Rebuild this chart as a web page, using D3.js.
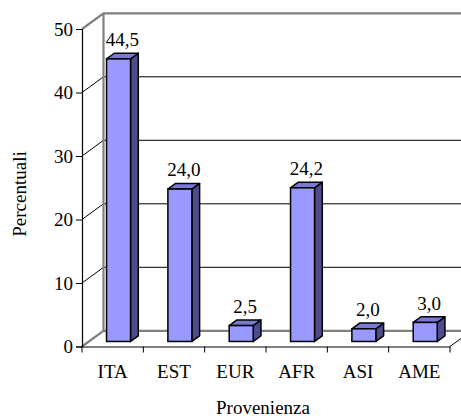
<!DOCTYPE html>
<html>
<head>
<meta charset="utf-8">
<script src="https://cdn.jsdelivr.net/npm/d3@7"></script>
<style>
  html, body { margin: 0; padding: 0; background: #fff; }
  svg { display: block; font-family: "Liberation Serif", "Times New Roman", serif; }
</style>
</head>
<body>
<svg id="chart" width="461" height="419"></svg>
<script>
// Provenienza degli utenti (percentuali)
const categories = ["ITA", "EST", "EUR", "AFR", "ASI", "AME"];
const values = [44.5, 24.0, 2.5, 24.2, 2.0, 3.0];
const yTicks = [0, 10, 20, 30, 40, 50];

const svg = d3.select("#chart");
const W = 461, H = 419;
const FS = 19;

// front plane of the plot
const x = d3.scaleBand().domain(categories).range([82, 450]);
const y = d3.scaleLinear().domain([0, 50]).range([346.5, 29]);

// depth of the 3D box
const DX = 21.5, DY = -15.7;
// bars sit between these depth fractions
const d1 = 0.32, d2 = 0.68;
const barW = 24;

const fmt = v => d3.format(".1f")(v).replace(".", ",");

const gray = "#808080";
svg.append("clipPath").attr("id", "c").append("rect")
  .attr("x", 0).attr("y", 0).attr("width", W).attr("height", H);

const g = svg.append("g").attr("clip-path", "url(#c)");

const xL = x.range()[0], xR = x.range()[1];

// back wall gridlines
g.selectAll(".grid").data(yTicks.filter(t => t > 0 && t < 50)).join("line")
  .attr("x1", xL + DX).attr("x2", xR + DX)
  .attr("y1", d => y(d) + DY).attr("y2", d => y(d) + DY)
  .attr("stroke", "#000").attr("stroke-width", 1);

// side-wall connectors from front ticks to the back wall
g.selectAll(".conn").data(yTicks.filter(t => t > 0 && t < 50)).join("line")
  .attr("x1", xL).attr("x2", xL + DX)
  .attr("y1", d => y(d)).attr("y2", d => y(d) + DY)
  .attr("stroke", "#000").attr("stroke-width", 1);

// back wall outline (gray)
g.append("path")
  .attr("d", `M${xL},${y(50)} L${xL + DX},${y(50) + DY} L${xR + DX},${y(50) + DY}`)
  .attr("fill", "none").attr("stroke", gray).attr("stroke-width", 2.2);
g.append("line")
  .attr("x1", xL + DX).attr("x2", xL + DX)
  .attr("y1", y(50) + DY).attr("y2", y(0) + DY)
  .attr("stroke", gray).attr("stroke-width", 2.2);
// floor
g.append("path")
  .attr("d", `M${xL},${y(0)} L${xL + DX},${y(0) + DY} L${xR + DX},${y(0) + DY}`)
  .attr("fill", "none").attr("stroke", gray).attr("stroke-width", 2.2);
g.append("line")
  .attr("x1", xR).attr("x2", xR + DX)
  .attr("y1", y(0)).attr("y2", y(0) + DY)
  .attr("stroke", "#000").attr("stroke-width", 1);

// bars
const ox1 = d1 * DX, oy1 = d1 * DY, ox2 = d2 * DX, oy2 = d2 * DY;
const bars = g.selectAll(".bar").data(categories.map((c, i) => ({ c, v: values[i] }))).join("g");

bars.each(function (d) {
  const b = d3.select(this);
  const x0 = x(d.c) + x.bandwidth() / 2 - barW / 2 + ox1 - 1;
  const x1 = x0 + barW;
  const yt = y(d.v) + oy1, yb = y(0) + oy1;
  const ddx = ox2 - ox1, ddy = oy2 - oy1;
  // side face
  b.append("path")
    .attr("d", `M${x1},${yt} L${x1 + ddx},${yt + ddy} L${x1 + ddx},${yb + ddy} L${x1},${yb} Z`)
    .attr("fill", "#4D4D8C").attr("stroke", "#000").attr("stroke-width", 1.5).attr("stroke-linejoin", "round");
  // top face
  b.append("path")
    .attr("d", `M${x0},${yt} L${x0 + ddx},${yt + ddy} L${x1 + ddx},${yt + ddy} L${x1},${yt} Z`)
    .attr("fill", "#7A7AD6").attr("stroke", "#000").attr("stroke-width", 1.5).attr("stroke-linejoin", "round");
  // front face
  b.append("rect")
    .attr("x", x0).attr("y", yt).attr("width", barW).attr("height", yb - yt)
    .attr("fill", "#9999FF").attr("stroke", "#000").attr("stroke-width", 1.5);
  // value label
  b.append("text")
    .attr("x", x0 + barW / 2 + ddx / 2).attr("y", yt + ddy - 7)
    .attr("text-anchor", "middle").attr("font-size", FS).attr("fill", "#000")
    .text(fmt(d.v));
});

// y axis (front)
const yAxis = d3.axisLeft(y).tickValues(yTicks).tickSize(6).tickPadding(3).tickFormat(d3.format("d"));
const ya = svg.append("g").attr("transform", `translate(${xL},0)`).call(yAxis);
ya.select(".domain").attr("stroke", "#000").attr("stroke-width", 1.2);
ya.selectAll(".tick line").attr("stroke", "#000");
ya.selectAll(".tick text").attr("font-size", FS).attr("font-family", "Liberation Serif, serif").attr("fill", "#000");

// x axis (front)
const xAxis = d3.axisBottom(x).tickSize(0).tickPadding(18);
const xa = svg.append("g").attr("transform", `translate(0,${y(0)})`).call(xAxis);
xa.select(".domain").attr("stroke", "#000").attr("stroke-width", 1.2);
xa.selectAll(".tick text").attr("font-size", FS).attr("font-family", "Liberation Serif, serif").attr("fill", "#000");
// category separators
xa.selectAll(".sep").data(d3.range(categories.length + 1)).join("line")
  .attr("x1", i => xL + i * x.step()).attr("x2", i => xL + i * x.step())
  .attr("y1", 0).attr("y2", 6).attr("stroke", "#000");

// axis titles
svg.append("text")
  .attr("transform", `translate(26,194) rotate(-90)`)
  .attr("text-anchor", "middle").attr("font-size", FS).text("Percentuali");
svg.append("text")
  .attr("x", 263).attr("y", 414)
  .attr("text-anchor", "middle").attr("font-size", FS).text("Provenienza");
</script>
</body>
</html>
